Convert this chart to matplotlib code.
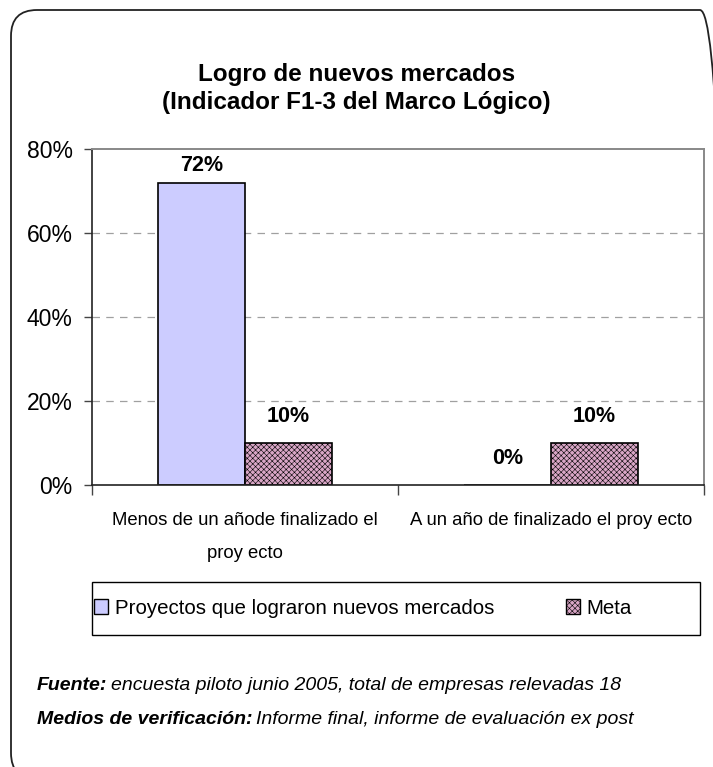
import matplotlib.pyplot as plt
from matplotlib.patches import FancyBboxPatch, Patch, Rectangle
from matplotlib.transforms import IdentityTransform
import numpy as np

plt.rcParams['font.family'] = ['Liberation Sans', 'DejaVu Sans']
plt.rcParams['hatch.color'] = '#b07a9c'
plt.rcParams['hatch.linewidth'] = 0.4

# data
categories = ["Menos de un añode finalizado el\nproy ecto", "A un año de finalizado el proy ecto"]
logrado = [72, 0]
meta = [10, 10]
series_names = ["Proyectos que lograron nuevos mercados", "Meta"]
yticks = [0, 20, 40, 60, 80]

W, H = 713, 767
fig = plt.figure(figsize=(W / 100, H / 100), dpi=100)

# rounded outer frame, in pixels (runs off the right and bottom edges)
frame = FancyBboxPatch((11, -12), 726 - 11, 757 + 12,
                       boxstyle="round,pad=0,rounding_size=26",
                       transform=IdentityTransform(), fill=False,
                       edgecolor='#222222', linewidth=1.3)
fig.patches.append(frame)

fig.text(0.5, 1 - 75 / H, "Logro de nuevos mercados", ha='center', va='center',
         fontsize=17.5, fontweight='bold')
fig.text(0.5, 1 - 103 / H, "(Indicador F1-3 del Marco Lógico)", ha='center', va='center',
         fontsize=17.5, fontweight='bold')

ax = fig.add_axes([92 / W, 1 - 485 / H, (704 - 92) / W, (485 - 149) / H])

x = np.arange(len(categories))
w = 0.285
b1 = ax.bar(x - w / 2, logrado, w, color='#ccccff', edgecolor='black', linewidth=1.2)
b2 = ax.bar(x + w / 2, meta, w, color='#d9a6c6', edgecolor='black', linewidth=1.2,
            hatch='xxxxxx')

for bars, vals in [(b1, logrado), (b2, meta)]:
    for rect, v in zip(bars, vals):
        ax.text(rect.get_x() + rect.get_width() / 2, min(v + 6.3, 76), f"{v}%",
                ha='center', va='center', fontsize=15.5, fontweight='bold')

ax.set_xlim(-0.5, 1.5)
ax.set_ylim(0, 80)
ax.set_yticks(yticks)
ax.set_yticklabels([f"{t}%" for t in yticks], fontsize=16.5)
for t in yticks[1:-1]:
    ax.axhline(t, color='#a0a0a0', linestyle=(0, (6, 5)), linewidth=0.9, zorder=0)

ax.set_xticks([-0.5, 0.5, 1.5])
ax.set_xticklabels([])
ax.tick_params(axis='x', length=7, width=1, color='#444444')
ax.tick_params(axis='y', length=6, width=1, color='#444444', pad=8)
for i, c in enumerate(categories):
    ax.text(i, -6.5, c, ha='center', va='top', fontsize=13.3, linespacing=2.2,
            transform=ax.transData)

ax.spines['top'].set_color('#888888')
ax.spines['right'].set_color('#888888')
ax.spines['top'].set_linewidth(1.4)
ax.spines['right'].set_linewidth(1.4)
ax.spines['left'].set_color('#222222')
ax.spines['bottom'].set_color('#222222')
ax.spines['left'].set_linewidth(1.2)
ax.spines['bottom'].set_linewidth(1.2)

# legend box drawn by hand, entries placed inside it
fig.patches.append(Rectangle((92 / W, 1 - 635 / H), (700 - 92) / W, 53 / H,
                             transform=fig.transFigure, fill=False,
                             edgecolor='black', linewidth=1))
handles = [Patch(facecolor='#ccccff', edgecolor='black', linewidth=1),
           Patch(facecolor='#d9a6c6', edgecolor='black', linewidth=1, hatch='xxxxxx')]
leg = fig.legend(handles, series_names, loc='center left',
                 bbox_to_anchor=(94 / W, 1 - 608 / H),
                 ncol=2, fontsize=14.8, frameon=False,
                 handlelength=0.7, handleheight=0.7,
                 handletextpad=0.3, columnspacing=3.5, borderpad=0, borderaxespad=0)

# footnotes: bold-italic prefix followed by italic text
fig.canvas.draw()
renderer = fig.canvas.get_renderer()
for y, head, rest in [(685, "Fuente:", "encuesta piloto junio 2005, total de empresas relevadas 18"),
                      (720, "Medios de verificación:", "Informe final, informe de evaluación ex post")]:
    t = fig.text(37 / W, 1 - y / H, head, fontsize=14, fontweight='bold', style='italic',
                 va='center')
    bb = t.get_window_extent(renderer)
    fig.text((bb.x1 + 4) / W, 1 - y / H, rest, fontsize=14, style='italic',
             va='center')

fig.savefig("out.png", dpi=100)
